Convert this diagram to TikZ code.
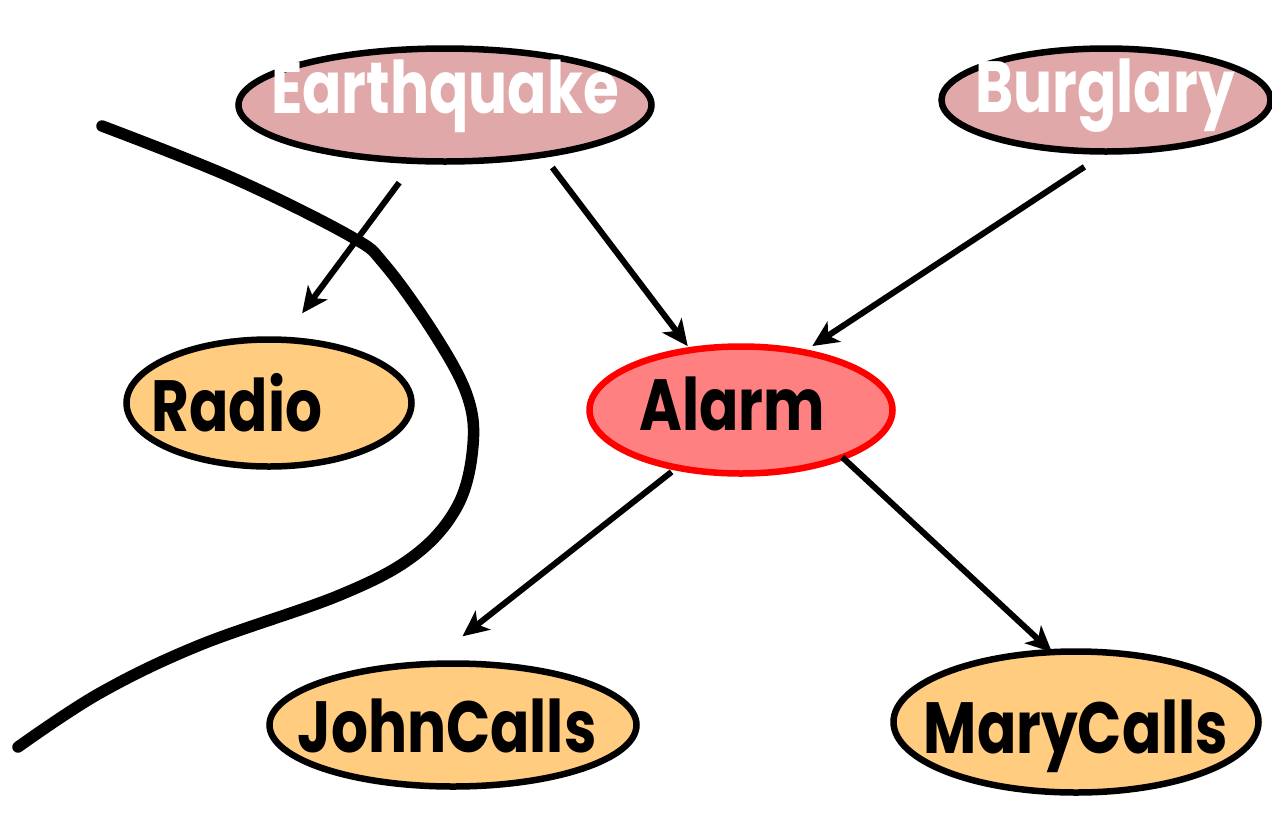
\documentclass[tikz,border=0pt]{standalone}
\usepackage{fontspec}
\usepackage{graphicx}
\setmainfont{Poppins}
\usetikzlibrary{shapes.geometric,arrows.meta}
\definecolor{quakepink}{RGB}{224,168,168}
\definecolor{nodeorange}{RGB}{255,204,128}
\definecolor{alarmfill}{RGB}{255,128,128}
% #1 = twice the horizontal offset, #2 = baseline offset, #3 = text
\newcommand{\nodetext}[3]{\makebox[0pt]{\kern#1\smash{\raisebox{#2}{\scalebox{1}[1.25]{#3}}}}}
\tikzset{
  bnode/.style={ellipse, draw=black, line width=6.5pt, inner sep=0pt, outer sep=0pt,
    font=\fontsize{58}{64}\selectfont\bfseries},
  rootnode/.style={bnode, fill=quakepink, text=white},
  leafnode/.style={bnode, fill=nodeorange, text=black},
  alarmnode/.style={bnode, fill=alarmfill, draw=red, text=black},
  arr/.style={line width=6pt, -{Stealth[length=26pt,width=24pt,inset=7pt]}},
  divider/.style={line width=11.5pt, line cap=round}
}
\begin{document}
\begin{tikzpicture}[x=1pt,y=-1pt]
\useasboundingbox (0,0) rectangle (1272,812);
\draw[divider] plot[smooth, tension=0.6] coordinates {(102,126) (233,178) (350,236) (385,265) (435,335) (467,395) (473,445) (458,505) (415,555) (340,595) (200,645) (100,693) (18,747)};
\node[rootnode, minimum width=413pt, minimum height=113pt] (eq) at (445,105) {\nodetext{0pt}{-8pt}{Earthquake}};
\node[rootnode, minimum width=329pt, minimum height=103pt] (bu) at (1106,100) {\nodetext{-2pt}{-12pt}{Burglary}};
\node[leafnode, minimum width=285pt, minimum height=127pt] (radio) at (269,403) {\nodetext{-64pt}{-28pt}{Radio}};
\node[alarmnode, minimum width=303pt, minimum height=127pt] (alarm) at (741,410) {\nodetext{-18pt}{-20pt}{Alarm}};
\node[leafnode, minimum width=367pt, minimum height=123pt] (john) at (453,725) {\nodetext{-12pt}{-27pt}{JohnCalls}};
\node[leafnode, minimum width=365pt, minimum height=141pt] (mary) at (1076,722) {\nodetext{0pt}{-31pt}{MaryCalls}};
\draw[arr, shorten <=27pt, shorten >=33pt] (eq.242) -- (radio.78);
\draw[arr, shorten <=16pt, shorten >=5pt] (eq.333) -- (alarm.130);
\draw[arr, shorten <=28pt, shorten >=11pt] (bu.272) -- (alarm.43);
\draw[arr, shorten <=7pt, shorten >=45pt] (alarm.222) -- (john.113);
\draw[arr] (alarm.335) -- (mary.109);
\end{tikzpicture}
\end{document}
